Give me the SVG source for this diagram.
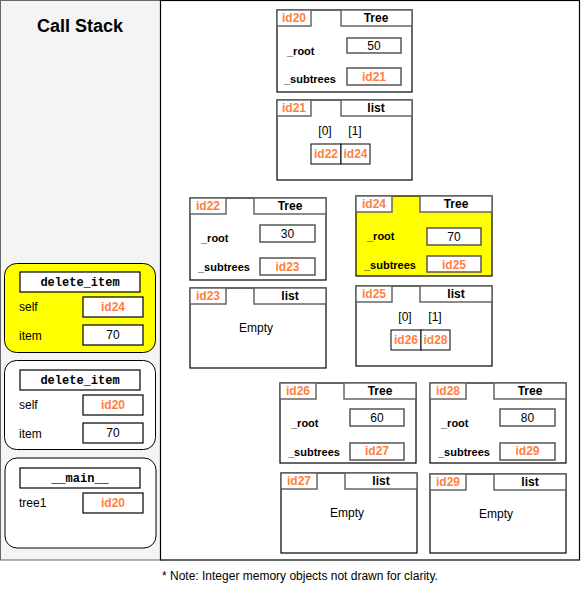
<svg xmlns="http://www.w3.org/2000/svg" width="581" height="591" viewBox="0 0 581 591">
<style>
text{font-family:"Liberation Sans",Arial,sans-serif;}
.obj{fill:#fff;stroke:#000;stroke-width:1.2;}
.objy{fill:#ffff00;stroke:#000;stroke-width:1.2;}
.tab{fill:#fff;stroke:#666;stroke-width:1.5;}
.val{fill:#fff;stroke:#555;stroke-width:1.5;}
.cell{fill:#fff;stroke:#000;stroke-width:1;}
.id{fill:#ff7f3f;font-weight:bold;font-size:12px;text-anchor:middle;}
.ty{fill:#000;font-weight:bold;font-size:12px;text-anchor:middle;}
.lbl{fill:#000;font-weight:bold;font-size:11px;}
.num{fill:#000;font-size:12px;text-anchor:middle;}
.idx{fill:#000;font-size:12px;text-anchor:middle;}
.frame{fill:#fff;stroke:#000;stroke-width:1;}
.framey{fill:#ffff00;stroke:#000;stroke-width:1;}
.fhead{fill:#fff;stroke:#000;stroke-width:1.2;}
.fname{font-family:"Liberation Mono","Courier New",monospace;font-weight:bold;font-size:12px;text-anchor:middle;fill:#000;}
.var{fill:#000;font-size:12px;}
</style>
<rect x="0.5" y="0.5" width="160" height="559.5" fill="#f4f4f4" stroke="#666" stroke-width="1"/>
<rect x="160.5" y="0.5" width="419" height="559.5" fill="#fff" stroke="#000" stroke-width="1.2"/>
<text x="80" y="32" font-size="18" font-weight="bold" text-anchor="middle">Call Stack</text>

<g id="frame-delete-item-1">
<rect class="framey" x="4.5" y="263.5" width="151" height="89" rx="12"/>
<rect class="fhead" x="20" y="272" width="120" height="20"/>
<text class="fname" x="80" y="286">delete_item</text>
<text class="var" x="19" y="311">self</text>
<rect class="fhead" x="83" y="297" width="60" height="20"/>
<text class="id" x="113" y="311">id24</text>
<text class="var" x="19" y="340">item</text>
<rect class="fhead" x="83" y="325" width="60" height="20"/>
<text class="num" x="113" y="339">70</text>
</g>
<g id="frame-delete-item-2">
<rect class="frame" x="4.5" y="360.5" width="151" height="89" rx="12"/>
<rect class="fhead" x="20" y="370" width="120" height="20"/>
<text class="fname" x="80" y="384">delete_item</text>
<text class="var" x="19" y="409">self</text>
<rect class="fhead" x="83" y="395" width="60" height="20"/>
<text class="id" x="113" y="409">id20</text>
<text class="var" x="19" y="438">item</text>
<rect class="fhead" x="83" y="423" width="60" height="20"/>
<text class="num" x="113" y="437">70</text>
</g>
<g id="frame-main">
<rect class="frame" x="5" y="458" width="151" height="90" rx="12"/>
<rect class="fhead" x="20" y="468" width="120" height="20"/>
<text class="fname" x="80" y="482">__main__</text>
<text class="var" x="19" y="507">tree1</text>
<rect class="fhead" x="83" y="493" width="60" height="20"/>
<text class="id" x="113" y="507">id20</text>
</g>

<g id="id20">
<rect class="obj" x="277" y="10" width="135" height="82"/>
<rect class="tab" x="277" y="10" width="34" height="16"/>
<text class="id" x="294" y="22">id20</text>
<rect class="tab" x="341" y="10" width="71" height="16"/>
<text class="ty" x="376" y="22">Tree</text>
<text class="lbl" x="287" y="55">_root</text>
<rect class="val" x="347" y="38" width="54" height="15"/>
<text class="num" x="374" y="50">50</text>
<text class="lbl" x="284" y="83">_subtrees</text>
<rect class="val" x="347" y="68" width="54" height="17"/>
<text class="id" x="374" y="81">id21</text>
</g>
<g id="id21">
<rect class="obj" x="277" y="100" width="135" height="80"/>
<rect class="tab" x="277" y="100" width="34" height="16"/>
<text class="id" x="294" y="112">id21</text>
<rect class="tab" x="341" y="100" width="71" height="16"/>
<text class="ty" x="376" y="112">list</text>
<text class="idx" x="325" y="135">[0]</text>
<text class="idx" x="355" y="135">[1]</text>
<rect class="cell" x="311" y="144" width="30" height="20"/>
<rect class="cell" x="341" y="144" width="29" height="20"/>
<text class="id" x="326" y="158">id22</text>
<text class="id" x="355.5" y="158">id24</text>
</g>
<g id="id22">
<rect class="obj" x="190" y="198" width="136" height="82"/>
<rect class="tab" x="190" y="198" width="36" height="16"/>
<text class="id" x="208" y="210">id22</text>
<rect class="tab" x="254" y="198" width="72" height="16"/>
<text class="ty" x="290" y="210">Tree</text>
<text class="lbl" x="201" y="242">_root</text>
<rect class="val" x="260" y="225" width="55" height="17"/>
<text class="num" x="287.5" y="238">30</text>
<text class="lbl" x="198" y="271">_subtrees</text>
<rect class="val" x="260" y="258" width="55" height="17"/>
<text class="id" x="287.5" y="271">id23</text>
</g>
<g id="id23">
<rect class="obj" x="190" y="288" width="136" height="80"/>
<rect class="tab" x="190" y="288" width="36" height="16"/>
<text class="id" x="208" y="300">id23</text>
<rect class="tab" x="254" y="288" width="72" height="16"/>
<text class="ty" x="290" y="300">list</text>
<text class="num" x="256" y="332">Empty</text>
</g>
<g id="id24">
<rect class="objy" x="356" y="196" width="136" height="80"/>
<rect class="tab" x="356" y="196" width="36" height="16"/>
<text class="id" x="374" y="208">id24</text>
<rect class="tab" x="420" y="196" width="72" height="16"/>
<text class="ty" x="456" y="208">Tree</text>
<text class="lbl" x="367" y="240">_root</text>
<rect class="val" x="427" y="228" width="54" height="17"/>
<text class="num" x="454" y="241">70</text>
<text class="lbl" x="364" y="269">_subtrees</text>
<rect class="val" x="427" y="256" width="54" height="16"/>
<text class="id" x="454" y="269">id25</text>
</g>
<g id="id25">
<rect class="obj" x="356" y="286" width="136" height="80"/>
<rect class="tab" x="356" y="286" width="36" height="16"/>
<text class="id" x="374" y="298">id25</text>
<rect class="tab" x="420" y="286" width="72" height="16"/>
<text class="ty" x="456" y="298">list</text>
<text class="idx" x="405" y="321">[0]</text>
<text class="idx" x="435" y="321">[1]</text>
<rect class="cell" x="391" y="330" width="30" height="20"/>
<rect class="cell" x="421" y="330" width="29" height="20"/>
<text class="id" x="406" y="344">id26</text>
<text class="id" x="435.5" y="344">id28</text>
</g>
<g id="id26">
<rect class="obj" x="280" y="383" width="136" height="80"/>
<rect class="tab" x="280" y="383" width="36" height="16"/>
<text class="id" x="298" y="395">id26</text>
<rect class="tab" x="344" y="383" width="72" height="16"/>
<text class="ty" x="380" y="395">Tree</text>
<text class="lbl" x="291" y="427">_root</text>
<rect class="val" x="350" y="409" width="54" height="17"/>
<text class="num" x="377" y="422">60</text>
<text class="lbl" x="288" y="456">_subtrees</text>
<rect class="val" x="350" y="443" width="54" height="17"/>
<text class="id" x="377" y="455">id27</text>
</g>
<g id="id28">
<rect class="obj" x="430" y="383" width="136" height="80"/>
<rect class="tab" x="430" y="383" width="36" height="16"/>
<text class="id" x="448" y="395">id28</text>
<rect class="tab" x="494" y="383" width="72" height="16"/>
<text class="ty" x="530" y="395">Tree</text>
<text class="lbl" x="441" y="427">_root</text>
<rect class="val" x="500" y="409" width="55" height="17"/>
<text class="num" x="527.5" y="422">80</text>
<text class="lbl" x="438" y="456">_subtrees</text>
<rect class="val" x="500" y="443" width="55" height="17"/>
<text class="id" x="527.5" y="455">id29</text>
</g>
<g id="id27">
<rect class="obj" x="281" y="473" width="136" height="80"/>
<rect class="tab" x="281" y="473" width="36" height="16"/>
<text class="id" x="299" y="485">id27</text>
<rect class="tab" x="345" y="473" width="72" height="16"/>
<text class="ty" x="381" y="485">list</text>
<text class="num" x="347" y="517">Empty</text>
</g>
<g id="id29">
<rect class="obj" x="430" y="474" width="136" height="79"/>
<rect class="tab" x="430" y="474" width="36" height="16"/>
<text class="id" x="448" y="486">id29</text>
<rect class="tab" x="494" y="474" width="72" height="16"/>
<text class="ty" x="530" y="486">list</text>
<text class="num" x="496" y="518">Empty</text>
</g>
<g id="connectors"></g>
<text x="162" y="580" font-size="12" fill="#000">* Note: Integer memory objects not drawn for clarity.</text>
</svg>
